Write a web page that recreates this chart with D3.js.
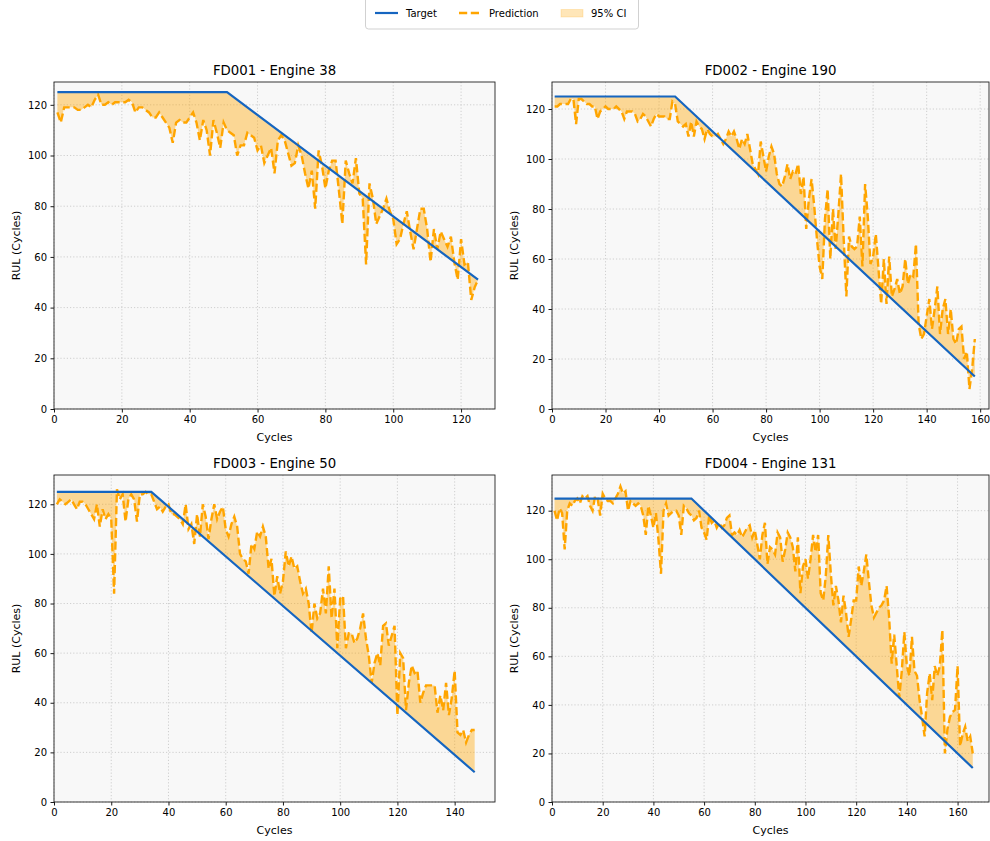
<!DOCTYPE html>
<html>
<head>
<meta charset="utf-8">
<script src="https://cdn.jsdelivr.net/npm/d3@7"></script>
<style>
  body { margin: 0; background: #fff; }
  svg { font-family: "DejaVu Sans", sans-serif; }
</style>
</head>
<body>
<div id="chart"></div>
<script>
var width = 990;
var height = 841;

// predictions, one value per cycle starting at cycle 1
var pred001 = [117, 113, 119, 119, 119, 119, 118, 118, 119, 120,
  119, 122, 124, 120, 120, 121, 120, 121, 121, 121,
  121, 122, 121, 117, 119, 119, 118, 117, 115, 115,
  117, 115, 113, 111, 105, 113, 114, 113, 113, 115,
  117, 113, 106, 114, 110, 100, 114, 109, 103, 113,
  110, 109, 108, 100, 104, 104, 109, 108, 107, 102,
  104, 97, 100, 103, 93, 106, 108, 106, 101, 96,
  97, 104, 100, 93, 87, 94, 79, 102, 96, 87,
  94, 98, 98, 86, 73, 98, 93, 89, 99, 85,
  83, 57, 89, 83, 73, 76, 79, 83, 78, 75,
  65, 67, 73, 78, 70, 63, 71, 79, 79, 71,
  58, 71, 63, 70, 67, 64, 68, 58, 51, 67,
  57, 58, 43, 48, 51];

var pred002 = [121, 121, 122, 122, 122, 122, 124, 124, 114, 124,
  124, 123, 122, 122, 121, 121, 116, 119, 120, 121,
  120, 120, 120, 121, 120, 119, 116, 119, 119, 119,
  118, 115, 116, 118, 117, 115, 113, 116, 118, 117,
  117, 117, 116, 116, 123, 122, 115, 114, 113, 114,
  109, 115, 109, 115, 113, 112, 108, 112, 110, 109,
  109, 110, 108, 106, 108, 111, 109, 111, 108, 104,
  108, 106, 110, 104, 98, 96, 94, 107, 101, 95,
  101, 105, 102, 94, 90, 89, 93, 98, 92, 95,
  94, 98, 86, 93, 72, 84, 92, 81, 68, 57,
  52, 76, 88, 60, 80, 64, 78, 94, 68, 45,
  69, 65, 64, 65, 77, 57, 90, 77, 58, 61,
  70, 56, 42, 60, 42, 61, 45, 48, 52, 46,
  49, 60, 50, 54, 53, 66, 34, 28, 30, 37,
  44, 32, 40, 49, 30, 40, 44, 30, 40, 28,
  26, 32, 33, 20, 23, 8, 16, 28];

var pred003 = [120, 122, 121, 120, 121, 122, 120, 118, 121, 121,
  120, 118, 116, 114, 120, 111, 118, 114, 116, 114,
  84, 126, 122, 124, 113, 122, 124, 122, 113, 124,
  124, 125, 124, 124, 121, 118, 119, 117, 119, 120,
  116, 116, 115, 114, 112, 120, 110, 112, 104, 116,
  107, 120, 115, 106, 114, 120, 114, 117, 119, 110,
  107, 112, 115, 111, 100, 98, 97, 92, 104, 102,
  109, 107, 111, 107, 94, 98, 83, 91, 84, 89,
  101, 95, 99, 94, 95, 89, 84, 86, 80, 68,
  80, 74, 76, 86, 76, 95, 74, 86, 62, 82,
  83, 62, 68, 68, 64, 66, 70, 76, 66, 59,
  48, 56, 60, 55, 71, 72, 63, 67, 71, 35,
  60, 58, 37, 48, 55, 52, 53, 40, 44, 47,
  47, 47, 47, 36, 43, 37, 48, 35, 42, 53,
  28, 27, 29, 24, 27, 29, 29];

var pred004 = [120, 116, 121, 119, 104, 120, 123, 122, 124, 125,
  123, 126, 125, 126, 122, 120, 126, 125, 118, 127,
  125, 124, 124, 123, 125, 127, 130, 127, 128, 120,
  124, 123, 122, 123, 122, 118, 110, 122, 118, 113,
  119, 108, 94, 120, 123, 118, 119, 120, 120, 118,
  110, 122, 121, 119, 118, 116, 117, 120, 113, 111,
  108, 118, 115, 116, 113, 115, 113, 114, 117, 118,
  110, 111, 110, 112, 109, 111, 113, 114, 109, 112,
  106, 100, 110, 115, 98, 105, 104, 102, 111, 109,
  99, 104, 111, 109, 105, 95, 109, 86, 97, 100,
  92, 100, 110, 103, 110, 86, 83, 93, 110, 94,
  81, 89, 83, 74, 85, 78, 68, 75, 83, 83,
  97, 89, 95, 102, 91, 81, 76, 78, 80, 81,
  83, 89, 76, 57, 69, 56, 43, 54, 70, 56,
  52, 68, 54, 52, 42, 35, 27, 45, 53, 42,
  56, 52, 56, 71, 20, 30, 35, 37, 38, 56,
  23, 28, 31, 25, 27, 20];

// target RUL breakpoints [cycle, RUL]
var target001 = [[1, 125], [51, 125], [125, 51]];
var target002 = [[1, 125], [46, 125], [158, 13]];
var target003 = [[1, 125], [34, 125], [147, 12]];
var target004 = [[1, 125], [55, 125], [166, 14]];

var titles = ["FD001 - Engine 38", "FD002 - Engine 190", "FD003 - Engine 50", "FD004 - Engine 131"];

var targetColor = "#1565c0";
var predColor = "#ffa500";

var panels = [
  { title: titles[0], pred: pred001, target: target001, xMax: 130, yMax: 129, left: 54, top: 82, w: 441, h: 327 },
  { title: titles[1], pred: pred002, target: target002, xMax: 163.3, yMax: 130.8, left: 552, top: 82, w: 437, h: 327 },
  { title: titles[2], pred: pred003, target: target003, xMax: 154.1, yMax: 131.8, left: 54, top: 475, w: 441, h: 327 },
  { title: titles[3], pred: pred004, target: target004, xMax: 172.4, yMax: 134.7, left: 552, top: 475, w: 437, h: 327 }
];

var svg = d3.select("#chart")
  .append("svg")
  .attr("width", width)
  .attr("height", height);

panels.forEach(function (p) {
  var data = p.pred.map(function (v, i) {
    return { c: i + 1, v: v };
  });

  var xScale = d3.scaleLinear().domain([0, p.xMax]).range([0, p.w]);
  var yScale = d3.scaleLinear().domain([0, p.yMax]).range([p.h, 0]);
  // piecewise target curve
  var tgt = d3.scaleLinear()
    .domain(p.target.map(function (d) { return d[0]; }))
    .range(p.target.map(function (d) { return d[1]; }));

  var g = svg.append("g").attr("transform", "translate(" + p.left + "," + p.top + ")");

  g.append("rect")
    .attr("width", p.w)
    .attr("height", p.h)
    .attr("fill", "#f8f8f8");

  // grid
  var xTicks = xScale.ticks(8).filter(function (t) { return t % 20 === 0; });
  var yTicks = d3.range(0, 121, 20);
  g.selectAll(".gx")
    .data(xTicks)
    .enter()
    .append("line")
    .attr("x1", function (d) { return xScale(d); })
    .attr("x2", function (d) { return xScale(d); })
    .attr("y1", 0)
    .attr("y2", p.h)
    .attr("stroke", "#c4c4c4")
    .attr("stroke-width", 0.8)
    .attr("stroke-dasharray", "1.2,2");
  g.selectAll(".gy")
    .data(yTicks)
    .enter()
    .append("line")
    .attr("x1", 0)
    .attr("x2", p.w)
    .attr("y1", function (d) { return yScale(d); })
    .attr("y2", function (d) { return yScale(d); })
    .attr("stroke", "#c4c4c4")
    .attr("stroke-width", 0.8)
    .attr("stroke-dasharray", "1.2,2");

  // CI band between target and prediction
  var area = d3.area()
    .x(function (d) { return xScale(d.c); })
    .y0(function (d) { return yScale(tgt(d.c)); })
    .y1(function (d) { return yScale(d.v); });
  g.append("path")
    .datum(data)
    .attr("d", area)
    .attr("fill", predColor)
    .attr("fill-opacity", 0.4);

  var predLine = d3.line()
    .x(function (d) { return xScale(d.c); })
    .y(function (d) { return yScale(d.v); });
  g.append("path")
    .datum(data)
    .attr("d", predLine)
    .attr("fill", "none")
    .attr("stroke", predColor)
    .attr("stroke-width", 2.4)
    .attr("stroke-dasharray", "8.2,3.6");

  var tgtLine = d3.line()
    .x(function (d) { return xScale(d[0]); })
    .y(function (d) { return yScale(d[1]); });
  g.append("path")
    .datum(p.target)
    .attr("d", tgtLine)
    .attr("fill", "none")
    .attr("stroke", targetColor)
    .attr("stroke-width", 2.2);

  // axes
  var xAxis = d3.axisBottom(xScale).tickValues(xTicks).tickSize(3.5).tickPadding(3.5);
  var yAxis = d3.axisLeft(yScale).tickValues(yTicks).tickSize(3.5).tickPadding(3.5);

  var gx = g.append("g")
    .attr("transform", "translate(0," + p.h + ")")
    .call(xAxis);
  var gy = g.append("g").call(yAxis);
  [gx, gy].forEach(function (a) {
    a.select(".domain").remove();
    a.selectAll("text").attr("font-size", "10px").attr("fill", "#000").attr("font-family", "DejaVu Sans");
    a.selectAll("line").attr("stroke", "#000").attr("stroke-width", 0.9);
  });

  g.append("rect")
    .attr("width", p.w)
    .attr("height", p.h)
    .attr("fill", "none")
    .attr("stroke", "#222")
    .attr("stroke-width", 0.9);

  g.append("text")
    .attr("x", p.w / 2)
    .attr("y", -7)
    .attr("text-anchor", "middle")
    .style("font-size", "13.3px")
    .text(p.title);

  g.append("text")
    .attr("x", p.w / 2)
    .attr("y", p.h + 32)
    .attr("text-anchor", "middle")
    .style("font-size", "11px")
    .text("Cycles");

  g.append("text")
    .attr("transform", "rotate(-90)")
    .attr("x", -p.h / 2)
    .attr("y", -34)
    .attr("text-anchor", "middle")
    .style("font-size", "11px")
    .text("RUL (Cycles)");
});

// legend
var legend = svg.append("g");
legend.append("rect")
  .attr("x", 365.5)
  .attr("y", -4)
  .attr("width", 273)
  .attr("height", 33)
  .attr("rx", 3)
  .attr("fill", "#fff")
  .attr("stroke", "#cccccc")
  .attr("stroke-width", 0.9);

legend.append("line")
  .attr("x1", 375).attr("x2", 398)
  .attr("y1", 13).attr("y2", 13)
  .attr("stroke", targetColor)
  .attr("stroke-width", 2.2);
legend.append("line")
  .attr("x1", 459).attr("x2", 481)
  .attr("y1", 13).attr("y2", 13)
  .attr("stroke", predColor)
  .attr("stroke-width", 2.4)
  .attr("stroke-dasharray", "8.2,3.6");
legend.append("rect")
  .attr("x", 561).attr("y", 9.5)
  .attr("width", 22).attr("height", 7.5)
  .attr("fill", predColor)
  .attr("fill-opacity", 0.28)
  .attr("stroke", predColor)
  .attr("stroke-opacity", 0.2);

var legendItems = [["Target", 406], ["Prediction", 489], ["95% CI", 591]];
legendItems.forEach(function (d) {
  legend.append("text")
    .attr("x", d[1])
    .attr("y", 16.5)
    .style("font-size", "10px")
    .text(d[0]);
});
</script>
</body>
</html>
